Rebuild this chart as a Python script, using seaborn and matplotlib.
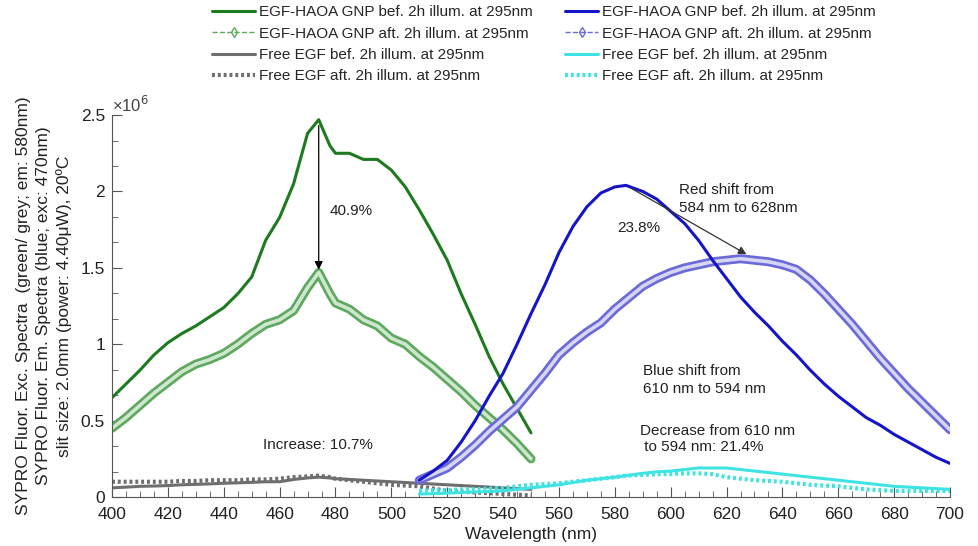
import numpy as np
import pandas as pd
import matplotlib
matplotlib.use("Agg")
import matplotlib.pyplot as plt
import matplotlib.patheffects as pe
from matplotlib.lines import Line2D
from matplotlib.ticker import MultipleLocator, AutoMinorLocator, FuncFormatter
import seaborn as sns

# excitation spectra (green / grey), values in 1e6 counts
wl_exc = [400, 405, 410, 415, 420, 425, 430, 435, 440, 445, 450, 455, 460, 465,
          470, 474, 478, 480, 485, 490, 495, 500, 505, 510, 515, 520, 525, 530,
          535, 540, 545, 550]
gnp_exc_bef = [0.65, 0.74, 0.83, 0.93, 1.01, 1.07, 1.12, 1.18, 1.24, 1.33, 1.44, 1.68, 1.83, 2.05,
               2.38, 2.47, 2.30, 2.25, 2.25, 2.21, 2.21, 2.14, 2.03, 1.88, 1.72, 1.55, 1.33, 1.13,
               0.92, 0.74, 0.58, 0.42]
gnp_exc_aft = [0.45, 0.52, 0.60, 0.68, 0.75, 0.82, 0.87, 0.90, 0.94, 1.00, 1.07, 1.13, 1.16, 1.22,
               1.37, 1.47, 1.33, 1.27, 1.23, 1.16, 1.12, 1.04, 1.00, 0.92, 0.85, 0.77, 0.69, 0.60,
               0.52, 0.44, 0.35, 0.25]
free_exc_bef = [0.06, 0.065, 0.07, 0.072, 0.075, 0.08, 0.083, 0.086, 0.09, 0.093, 0.096, 0.10, 0.10, 0.115,
                0.125, 0.13, 0.125, 0.12, 0.115, 0.11, 0.105, 0.10, 0.095, 0.09, 0.085, 0.08, 0.075, 0.07,
                0.065, 0.06, 0.055, 0.05]
free_exc_aft = [0.10, 0.10, 0.10, 0.10, 0.10, 0.105, 0.105, 0.11, 0.11, 0.11, 0.115, 0.115, 0.12, 0.13,
                0.135, 0.14, 0.13, 0.12, 0.11, 0.10, 0.09, 0.08, 0.075, 0.07, 0.055, 0.04, 0.035, 0.03,
                0.025, 0.02, 0.015, 0.01]

# emission spectra (blue / cyan)
wl_em = [510, 515, 520, 525, 530, 535, 540, 545, 550, 555, 560, 565, 570, 575, 580, 584,
         590, 595, 600, 605, 610, 615, 620, 625, 630, 635, 640, 645, 650, 655, 660, 665,
         670, 675, 680, 685, 690, 695, 700]
gnp_em_bef = [0.11, 0.17, 0.24, 0.36, 0.50, 0.66, 0.81, 1.00, 1.20, 1.39, 1.60, 1.77, 1.90, 1.99, 2.03, 2.04,
              2.00, 1.95, 1.87, 1.79, 1.68, 1.55, 1.43, 1.31, 1.21, 1.12, 1.02, 0.93, 0.83, 0.74, 0.66, 0.59,
              0.52, 0.47, 0.41, 0.36, 0.31, 0.26, 0.22]
gnp_em_aft = [0.11, 0.15, 0.19, 0.26, 0.34, 0.43, 0.51, 0.59, 0.70, 0.81, 0.93, 1.01, 1.08, 1.14, 1.23, 1.29,
              1.38, 1.43, 1.47, 1.50, 1.52, 1.54, 1.55, 1.56, 1.55, 1.54, 1.52, 1.49, 1.42, 1.33, 1.23, 1.13,
              1.02, 0.91, 0.81, 0.71, 0.62, 0.53, 0.44]
free_em_bef = [0.02, 0.022, 0.025, 0.03, 0.033, 0.036, 0.04, 0.05, 0.06, 0.07, 0.08, 0.095, 0.11, 0.12, 0.13, 0.14,
               0.155, 0.165, 0.17, 0.18, 0.19, 0.19, 0.19, 0.18, 0.17, 0.16, 0.15, 0.14, 0.13, 0.12, 0.11, 0.10,
               0.09, 0.08, 0.07, 0.065, 0.06, 0.055, 0.05]
free_em_aft = [0.04, 0.045, 0.045, 0.05, 0.05, 0.055, 0.06, 0.07, 0.08, 0.085, 0.09, 0.10, 0.11, 0.12, 0.13, 0.14,
               0.145, 0.15, 0.15, 0.155, 0.155, 0.15, 0.13, 0.12, 0.11, 0.105, 0.10, 0.09, 0.08, 0.075, 0.07, 0.06,
               0.05, 0.045, 0.04, 0.04, 0.04, 0.04, 0.04]

labels = ["EGF-HAOA GNP bef. 2h illum. at 295nm",
          "EGF-HAOA GNP aft. 2h illum. at 295nm",
          "Free EGF bef. 2h illum. at 295nm",
          "Free EGF aft. 2h illum. at 295nm"]

sns.set_style("ticks")
plt.rcParams['font.family'] = ['Liberation Sans', 'DejaVu Sans']

fig = plt.figure(figsize=(9.79, 5.46), dpi=100)
ax = fig.add_axes([0.1144, 0.0897, 0.856, 0.6995])

dark_green, light_green = "#1e7a1e", "#5fa85f"
dark_blue, light_blue = "#1414c8", "#6a6ad8"
grey, cyan = "#6e6e6e", "#3fe3e3"

def band(x, y, edge, inner):
    sns.lineplot(x=x, y=y, ax=ax, color=inner, lw=2.6, sort=False,
                 path_effects=[pe.Stroke(linewidth=6.5, foreground=edge), pe.Normal()])

band(wl_exc, gnp_exc_aft, light_green, "#cfe6cf")
sns.lineplot(x=wl_exc, y=gnp_exc_bef, ax=ax, color=dark_green, lw=2.2, sort=False)
sns.lineplot(x=wl_exc, y=free_exc_aft, ax=ax, color=grey, lw=3, ls=(0, (0.7, 0.7)), sort=False)
sns.lineplot(x=wl_exc, y=free_exc_bef, ax=ax, color=grey, lw=2.2, sort=False)

band(wl_em, gnp_em_aft, light_blue, "#d6d6f4")
sns.lineplot(x=wl_em, y=gnp_em_bef, ax=ax, color=dark_blue, lw=2.2, sort=False)
sns.lineplot(x=wl_em, y=free_em_aft, ax=ax, color=cyan, lw=3, ls=(0, (0.7, 0.7)), sort=False)
sns.lineplot(x=wl_em, y=free_em_bef, ax=ax, color=cyan, lw=2.2, sort=False)

ax.set_xlim(400, 700)
ax.set_ylim(0, 2.5)
ax.xaxis.set_major_locator(MultipleLocator(20))
ax.xaxis.set_minor_locator(MultipleLocator(5))
ax.yaxis.set_major_locator(MultipleLocator(0.5))
ax.yaxis.set_minor_locator(AutoMinorLocator(3))
ax.yaxis.set_major_formatter(FuncFormatter(lambda v, p: "%g" % v))
ax.tick_params(which='both', direction='in', colors='#555555', labelcolor='#222222', labelsize=12.5)
ax.tick_params(which='major', length=7)
ax.tick_params(which='minor', length=4)
ax.tick_params(axis='x', pad=7)
ax.tick_params(axis='y', pad=5)
for s in ['left', 'bottom']:
    ax.spines[s].set_color('#555555')
sns.despine(ax=ax)

ax.set_xlabel("Wavelength (nm)", fontsize=12.5, color='#222222', labelpad=4)
ax.set_ylabel("SYPRO Fluor. Exc. Spectra  (green/ grey; em: 580nm)\n"
              "SYPRO Fluor. Em. Spectra (blue; exc: 470nm)\n"
              "slit size: 2.0mm (power: 4.40\u03bcW), 20\u00baC",
              fontsize=12.5, color='#222222', labelpad=6, linespacing=1.4)
ax.text(0.0, 1.0, "\u00d710$^6$", transform=ax.transAxes, fontsize=12, color='#444444',
        ha='left', va='bottom')

tc = '#222222'
ax.annotate("", xy=(474, 1.47), xytext=(474, 2.45),
            arrowprops=dict(arrowstyle='-|>', color='black', lw=0.9, mutation_scale=12))
ax.text(478, 1.87, "40.9%", fontsize=11, color=tc, va='center')
ax.annotate("", xy=(628, 1.58), xytext=(585, 2.03),
            arrowprops=dict(arrowstyle='-|>', color='#333333', lw=0.9, mutation_scale=12))
ax.text(581, 1.76, "23.8%", fontsize=11, color=tc, va='center')
ax.text(603, 1.95, "Red shift from\n584 nm to 628nm", fontsize=11, color=tc, va='center', linespacing=1.35)
ax.text(590, 0.765, "Blue shift from\n610 nm to 594 nm", fontsize=11, color=tc, va='center', linespacing=1.35)
ax.text(589, 0.38, "Decrease from 610 nm\n to 594 nm: 21.4%", fontsize=11, color=tc, va='center', linespacing=1.25)
ax.text(454, 0.34, "Increase: 10.7%", fontsize=11, color=tc, va='center')

def handles(c_bef, c_aft, c_free, dotted_c):
    return [Line2D([], [], color=c_bef, lw=2.2),
            Line2D([], [], color=c_aft, lw=1, ls='--', marker='d', mfc='none', mec=c_aft, ms=5),
            Line2D([], [], color=c_free, lw=2.2),
            Line2D([], [], color=dotted_c, lw=3, ls=(0, (0.7, 0.7)))]

leg_kw = dict(loc='upper left', frameon=False, fontsize=11,
              labelspacing=0.48, handletextpad=0.25, borderpad=0.2)
fig.legend(handles(dark_green, light_green, grey, grey), labels,
           bbox_to_anchor=(0.206, 1.01), handlelength=2.8, **leg_kw)
fig.legend(handles(dark_blue, light_blue, cyan, cyan), labels,
           bbox_to_anchor=(0.566, 1.01), handlelength=2.2, **leg_kw)

fig.savefig("out.png", dpi=100)
